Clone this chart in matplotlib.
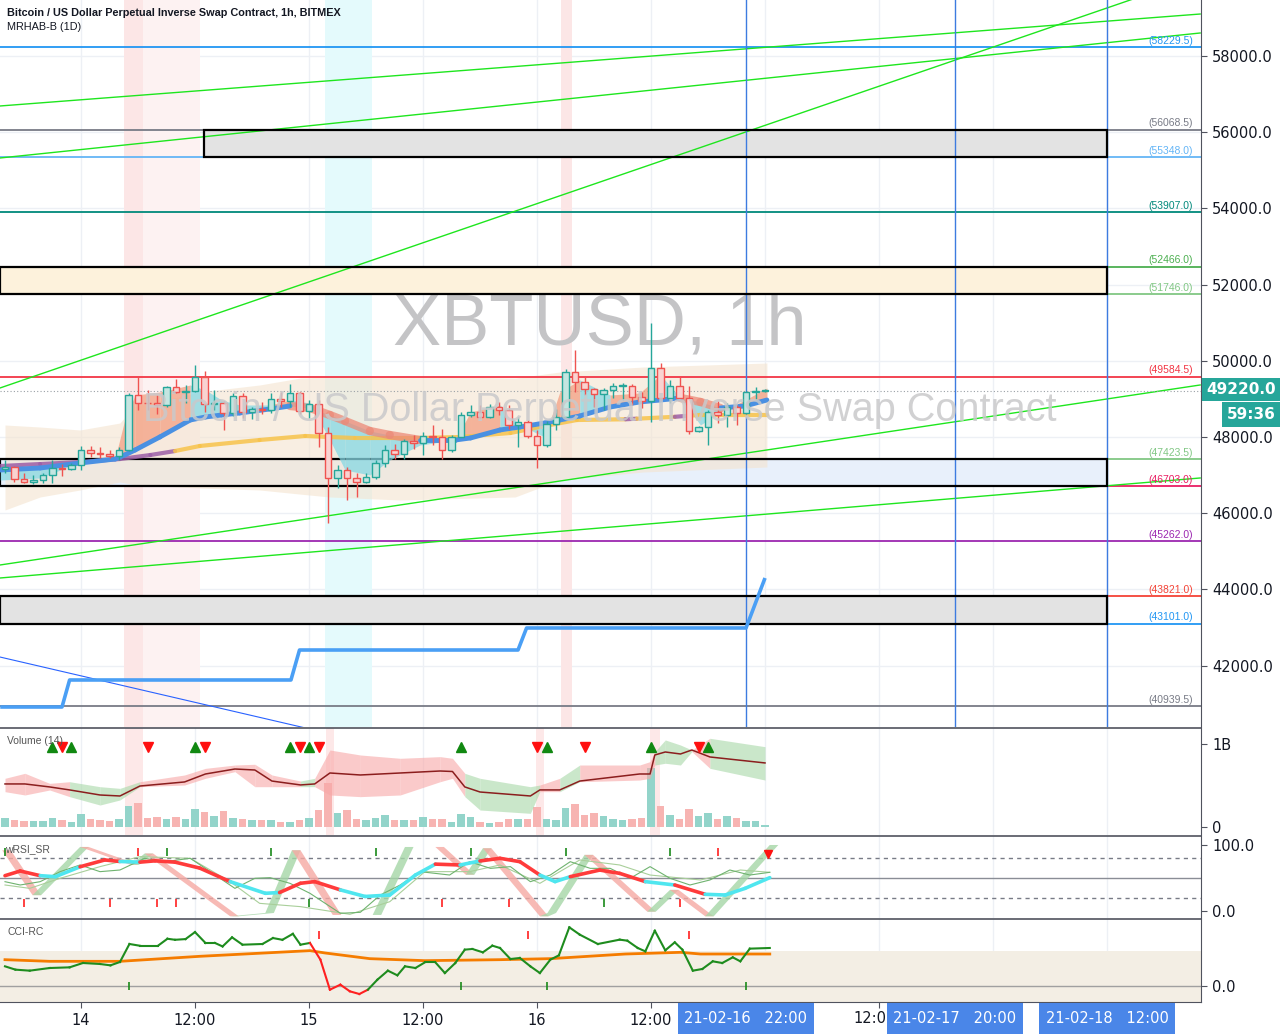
import numpy as np
import matplotlib.pyplot as plt
from matplotlib.patches import Rectangle, Polygon

W, H = 1280, 1036
X_LEFT, X_RIGHT = -8.526, 117.89   # hours from 2021-02-14 00:00

# ---------------- candles (1h) ----------------
hours = np.arange(-8, 73)
first_open = 47160
closes = [47210, 46900, 46830, 46870, 47000, 47190, 47160, 47270, 47650, 47580,
          47550, 47500, 47660, 49100, 48900, 48880, 48850, 49310, 49180, 49200,
          49580, 48870, 48890, 48640, 49080, 48660, 48730, 48700, 49000, 48950,
          49160, 48680, 48860, 48100, 46920, 47130, 46920, 46820, 46950, 47320,
          47660, 47560, 47900, 47850, 48030, 48000, 47660, 48000, 48580, 48660,
          48530, 48790, 48710, 48310, 48400, 48030, 47790, 48340, 48520, 49710,
          49440, 49260, 49130, 49230, 49340, 49350, 49050, 48950, 49810, 49020,
          49340, 49020, 48160, 48260, 48650, 48570, 48790, 48630, 49180, 49210,
          49220]
highs = [47390, 47230, 47050, 47000, 47050, 47400, 47300, 47320, 47760, 47760,
         47740, 47650, 47740, 49150, 49570, 49230, 49100, 49330, 49510, 49370,
         49900, 49730, 49230, 48940, 49150, 49150, 48780, 48930, 49150, 49170,
         49400, 49180, 48970, 48970, 48270, 47260, 47210, 47050, 47050, 47400,
         47790, 47820, 47950, 48050, 48130, 48310, 48210, 48060, 48660, 48840,
         48840, 48870, 48920, 48840, 48520, 48450, 48180, 48420, 48730, 49790,
         50280, 49580, 49290, 49290, 49420, 49420, 49400, 49180, 50990, 49940,
         49500, 49580, 49340, 48290, 48710, 48950, 48890, 48840, 49200, 49310,
         49260]
lows = [47050, 46830, 46800, 46770, 46780, 46780, 46980, 47130, 47130, 47480,
        47450, 47450, 47400, 47620, 48700, 48700, 48600, 48780, 49150, 48880,
        49180, 48660, 48700, 48180, 48540, 48500, 48480, 48600, 48620, 48800,
        48800, 48600, 48500, 47740, 45740, 46660, 46340, 46420, 46780, 46900,
        47210, 47430, 47430, 47690, 47530, 47790, 47430, 47610, 48000, 48530,
        48500, 48500, 48580, 48200, 47740, 47970, 47180, 47740, 48180, 48500,
        49180, 49100, 48790, 48710, 49020, 48970, 48840, 48760, 48390, 48970,
        48890, 49020, 48080, 48130, 47790, 48360, 48260, 48310, 48600, 48990,
        49180]
volumes_m = [100, 80, 68, 68, 68, 108, 80, 56, 149, 92,
             80, 72, 88, 249, 289, 108, 120, 92, 116, 88,
             217, 177, 133, 193, 108, 92, 80, 80, 80, 60,
             60, 80, 100, 201, 530, 169, 197, 88, 80, 108,
             141, 80, 80, 80, 120, 92, 92, 60, 149, 120,
             56, 48, 60, 96, 96, 92, 237, 96, 80, 225,
             273, 141, 165, 133, 96, 80, 92, 104, 703, 249,
             141, 96, 213, 129, 161, 92, 129, 100, 68, 68, 20]
last_price = 49220.0

# ---------------- MRHAB overlay ----------------
ribbon_h = [-8.5, -4.3, -0.1, 3.6, 4.6, 5.7, 8.3, 11.5, 13.1, 14.8, 16.7, 19.9,
            22.0, 24.1, 26.2, 27.8, 30.4, 32.5, 35.7, 39.4, 41.0, 44.1, 46.2,
            48.8, 50.4, 52.5, 55.7, 58.8, 61.0, 63.1, 65.2, 67.3, 69.9, 72.2]
fast_p = [47134, 47186, 47317, 47422, 47527, 47659, 48000, 48446, 48525, 48577,
          48630, 48735, 48814, 48761, 48577, 48420, 48157, 48052, 47921, 47921,
          47974, 48184, 48262, 48367, 48446, 48551, 48787, 48919, 48971, 49024,
          48919, 48761, 48814, 48971]
lead_p = [46871, 46924, 47343, 47449, 48446, 49102, 49181, 49365, 49233, 48971,
          48840, 48840, 48971, 48893, 47921, 47134, 47003, 47396, 47790, 47921,
          48656, 48840, 48315, 48000, 49181, 49496, 49102, 49155, 49627, 49024,
          48315, 48656, 48971, 49286]
slow_h = [-8.5, -4.3, -0.1, 4.1, 7.3, 9.9, 12.5, 18.8, 23.6, 28.8, 35.7, 39.9,
          45.2, 48.8, 52.2, 57.3, 58.5, 62.5, 64.0, 65.2, 72.2]
slow_p = [47238, 47290, 47343, 47422, 47527, 47632, 47764, 47921, 48026, 47974,
          47974, 48000, 48105, 48289, 48446, 48465, 48480, 48530, 48560, 48578, 48578]
slow_purple = [1, 1, 1, 1, 1, 0, 0, 0, 0, 0, 0, 0, 0, 0, 0, 1, 0, 1, 0, 0]
env_h = [-8.0, -4.3, -0.1, 4.1, 5.5, 12.5, 18.8, 23.1, 26.2, 33.6, 45.7, 50.4, 59.2, 72.2]
env_up = [48315, 48262, 48184, 48367, 48787, 49181, 49365, 49548, 49575, 49601,
          49548, 49706, 49837, 49942]
env_lo = [46084, 46425, 46609, 46819, 46750, 46661, 46609, 46500, 46425, 46346,
          46425, 46871, 47081, 47212]
daily_h = [-8.5, -2.0, -1.2, 22.1, 23.0, 46.0, 46.9, 70.0, 72.0]
daily_p = [40913, 40913, 41622, 41622, 42409, 42409, 42987, 42987, 44299]

# ---------------- drawings ----------------
levels = [58229.5, 56068.5, 55348.0, 53907.0, 52466.0, 51746.0, 49584.5,
          47423.5, 46703.0, 45262.0, 43821.0, 43101.0, 40939.5]
level_colors = ['#2196f3', '#787b86', '#64b5f6', '#00897b', '#4caf50', '#81c784',
                '#f23645', '#81c784', '#e91e63', '#9c27b0', '#f44336', '#2196f3',
                '#787b86']
zones = [(12.95, 56068.5, 55348.0, '#e3e3e3'),
         (X_LEFT, 52466.0, 51746.0, '#fdf2dc'),
         (X_LEFT, 47423.5, 46703.0, '#e8f0fb'),
         (X_LEFT, 43821.0, 43101.0, '#e3e3e3')]
zone_end = 108.0
trend_lines = [((-8.53, 56688), (117.8, 59102)),
               ((-8.53, 55323), (117.8, 58604)),
               ((-8.53, 49286), (117.8, 60100)),
               ((-8.53, 44640), (117.8, 49365)),
               ((-8.53, 44299), (117.8, 46924))]
down_line = ((-8.53, 42225), (33.6, 39784))
vlines_h = [70, 92, 108]
pink_bands = [(4.5, 6.5, '#fce6e6'), (6.5, 12.5, '#fdf2f2'), (50.5, 51.7, '#fce6e6')]
cyan_bands = [(25.7, 30.6, '#e4fafc')]

# ---------------- volume panel ----------------
vol_h = [-8.0, -5.9, -3.3, -1.2, 2.0, 4.1, 6.2, 10.9, 13.1, 16.2, 18.3, 20.1,
         23.1, 24.6, 26.2, 29.4, 33.6, 37.8, 39.1, 40.4, 42.0, 47.3, 48.3, 50.4,
         52.5, 58.8, 59.9, 60.4, 61.5, 63.1, 64.3, 66.2, 72.0]
vol_ma = [0.515, 0.515, 0.479, 0.443, 0.382, 0.370, 0.49, 0.539, 0.635, 0.695,
          0.683, 0.55, 0.503, 0.515, 0.647, 0.623, 0.647, 0.671, 0.665, 0.479,
          0.418, 0.37, 0.443, 0.443, 0.55, 0.635, 0.635, 0.864, 0.9, 0.876,
          0.924, 0.84, 0.768]
vol_up = [0.583, 0.643, 0.522, 0.542, 0.482, 0.462, 0.542, 0.623, 0.703, 0.743,
          0.752, 0.623, 0.550, 0.583, 0.924, 0.864, 0.824, 0.844, 0.824, 0.643,
          0.583, 0.482, 0.502, 0.583, 0.743, 0.743, 0.784, 0.904, 1.045, 0.984,
          0.924, 1.065, 0.964]
vol_lo = [0.422, 0.382, 0.442, 0.362, 0.261, 0.322, 0.482, 0.502, 0.583, 0.663,
          0.482, 0.482, 0.482, 0.482, 0.382, 0.362, 0.382, 0.542, 0.583, 0.362,
          0.201, 0.161, 0.422, 0.422, 0.542, 0.562, 0.583, 0.743, 0.764, 0.743,
          0.904, 0.703, 0.562]
vol_bull = [0, 0, 0, 1, 1, 1, 0, 0, 0, 0, 0, 0, 1, 0, 0, 0, 0, 0, 0, 1, 1, 1,
            0, 1, 0, 0, 0, 1, 1, 1, 0, 1]
vol_up_marks = [-3, -1, 12, 22, 24, 40, 49, 60, 66]
vol_dn_marks = [-2, 7, 13, 23, 25, 48, 53, 65]

# ---------------- wRSI_SR panel ----------------
rsi_h = [-8.0, -6.4, -4.3, -2.7, -0.1, 2.5, 4.1, 6.2, 7.8, 9.9, 12.5, 15.7, 19.4,
         20.9, 23.1, 24.6, 27.3, 29.9, 32.5, 35.2, 37.3, 39.9, 42.0, 44.1, 46.2,
         48.3, 49.9, 51.5, 54.6, 56.7, 59.4, 62.5, 65.7, 67.8, 69.9, 72.5]
rsi_v = [53.5, 60.6, 53.5, 52, 67, 77.3, 75, 74, 76, 74, 65, 44.5, 26.8, 28, 42,
         44.5, 32, 22, 24.2, 54.5, 71, 69.7, 75.8, 79.8, 74.7, 54.5, 44.5, 52, 62,
         57, 44.5, 39.4, 25.3, 24.2, 34.3, 50.5]
rsi_red_ranges = [(-8.5, -4.6), (-0.1, 4.1), (6.7, 15.7), (22.0, 27.3), (34.1, 35.2),
                  (36.9, 40.4), (42.5, 48.3), (53.0, 59.4), (62.5, 65.7)]
rib_h = [-8.3, -5.1, -0.1, 5.2, 6.7, 15.7, 19.4, 22.2, 26.5, 30.7, 34.1, 37.3,
         40.5, 42.3, 48.3, 49.1, 53.0, 59.6, 62.0, 65.7, 72.5]
rib_v = [92, 24, 97, 70, 87, -8, -3, 92, -6, -6, 97, 97, 55, 95, -8, -3, 85, -1,
         32, -8, 100]
rsi_raw_h = [-8.0, -6.4, -4.3, -2.2, -0.1, 2.0, 4.1, 6.7, 8.8, 11.5, 13.6, 16.2,
             18.3, 19.9, 22.0, 24.1, 27.3, 29.4, 31.5, 33.6, 35.7, 38.8, 40.9,
             43.1, 45.2, 47.3, 49.4, 51.5, 53.6, 55.7, 57.8, 59.9, 62.0, 64.1,
             66.2, 68.3, 70.4, 72.5]
rsi_raw_v = [44.4, 39.4, 44.4, 59.6, 69.7, 59.6, 62.1, 79.8, 74.7, 79.8, 59.6,
             34.3, 49.5, 50.5, 41.9, 26.8, -3.5, -2, 24.2, 39.4, 59.6, 54.5, 74.7,
             64.6, 67.2, 44.4, 54.5, 74.7, 64.6, 64.6, 49.5, 67.2, 49.5, 39.4, 47,
             62.1, 54.5, 58.6]
rsi_raw2_h = [-8.0, -5.4, -2.2, 2.0, 6.2, 11.5, 15.7, 18.8, 23.1, 28.3, 32.5, 36.2,
              40.9, 44.1, 48.3, 52.5, 56.7, 59.9, 65.2, 69.4, 72.5]
rsi_raw2_v = [39.4, 34.3, 49.5, 67.2, 82.3, 79.8, 44.4, 11.6, 6.6, -5, 14.1, 59.6,
              59.6, 69.7, 41.9, 77.3, 69.7, 54.5, 47, 62.1, 58.6]
rsi_top_green = [-8, 9, 20, 31, 41, 51, 62]
rsi_top_red = [6, 67]
rsi_bot_red = [-6, 3, 8, 10, 38, 45, 63]
rsi_bot_green = [24, 55]
rsi_sell_arrow = 72.3

# ---------------- CCI-RC panel ----------------
cci_h = [-8.0, -6.9, -5.4, -3.3, -1.2, 0.2, 2.0, 3.1, 4.1, 5.1, 6.2, 8.1, 9.1,
         9.9, 11.0, 12.0, 13.1, 14.1, 14.9, 15.9, 17.0, 19.1, 20.2, 21.2, 22.3,
         23.1, 24.1, 25.2, 26.2, 27.3, 28.3, 29.3, 30.2, 31.2, 32.3, 33.3, 34.1,
         35.2, 36.2, 37.3, 38.3, 39.4, 40.4, 41.2, 42.3, 43.3, 44.1, 45.2, 46.2,
         47.3, 48.3, 49.4, 50.3, 51.4, 52.5, 54.4, 56.7, 57.5, 58.6, 59.4, 60.4,
         61.5, 62.5, 63.3, 64.4, 65.4, 66.5, 67.5, 68.6, 69.4, 70.4, 72.5]
cci_v = [56.2, 46.7, 43.8, 51.4, 53.3, 65.7, 62.9, 59, 68.6, 120, 115, 115, 135,
         132, 134, 154, 123, 123, 113, 139, 118, 120, 137, 132, 149, 118, 123,
         75.2, -10.5, 3.8, -15.2, -22.9, -10.5, 18.1, 43.8, 30.5, 56.2, 51.4,
         67.6, 67.6, 37.1, 65.7, 103.8, 105.7, 96.2, 115.2, 108.6, 77.1, 80,
         56.2, 37.1, 75.2, 87.6, 167.6, 146.7, 120, 132.4, 129.5, 108.6, 99, 158,
         101.9, 124.8, 103.8, 43.8, 48.6, 70.5, 65.7, 81.9, 70.5, 106.7, 108.6]
cci_red_range = (24.6, 30.5)
cci_sig_h = [-8.0, -3.3, 4.1, 12.5, 24.1, 25.7, 30.4, 36.2, 44.1, 49.4, 57.3, 63.1,
             65.2, 72.5]
cci_sig_v = [75.2, 70.5, 70.5, 84.8, 101, 94.3, 78.1, 72.4, 75.2, 78.1, 91.4,
             96.2, 91.4, 91.4]
cci_top_red = [25, 47, 64]
cci_bot_green = [5, 40, 49, 70]

# ---------------- time axis ----------------
grid_hours = [0, 12, 24, 36, 48, 60, 72, 84, 96, 108]
time_ticks = [0, 12, 24, 36, 48, 60, 84]
time_labels = ['14', '12:00', '15', '12:00', '16', '12:00', '']
cut_label = (84, '12:0')   # label partly hidden behind the 20:00 marker box
time_boxes = [(70, '21-02-16   22:00'), (92, '21-02-17   20:00'), (108, '21-02-18   12:00')]

TEAL, RED = '#26a69a', '#ef5350'
AXC = '#50535e'
GRID = '#edf0f5'
NARROW = ['Liberation Sans Narrow', 'Liberation Sans', 'DejaVu Sans']

fig = plt.figure(figsize=(W / 100, H / 100), dpi=100)


def panel(top, bottom):
    a = fig.add_axes([0, 1 - bottom / H, 1201 / W, (bottom - top) / H])
    a.set_xlim(X_LEFT, X_RIGHT)
    a.yaxis.tick_right()
    for s in ('left', 'top', 'bottom'):
        a.spines[s].set_visible(False)
    a.spines['right'].set_color(AXC)
    a.tick_params(axis='y', length=4, color=AXC, labelsize=10.5,
                  labelcolor='#131722', pad=4)
    a.tick_params(axis='x', length=0, labelbottom=False)
    for g in grid_hours:
        a.axvline(g, color=GRID, lw=1, zorder=0)
    return a


ax = panel(0, 727)
axv = panel(728, 835)
axr = panel(836, 918)
axc = panel(919, 1002)
for a in (axv, axr, axc):
    a.spines['top'].set_visible(True)
    a.spines['top'].set_color(AXC)
    a.spines['top'].set_linewidth(1.2)
axc.spines['bottom'].set_visible(True)
axc.spines['bottom'].set_color(AXC)

# ================= main panel =================
ax.set_ylim(40388, 59470)
price_ticks = np.arange(42000, 58001, 2000)
ax.set_yticks(price_ticks)
ax.set_yticklabels(['%.1f' % t for t in price_ticks])
for t in price_ticks:
    ax.axhline(t, color=GRID, lw=1, zorder=0)

for x0, x1, c in pink_bands + cyan_bands:
    ax.axvspan(x0, x1, color=c, lw=0, zorder=0.1)

ax.text(0.4996, 0.552, 'XBTUSD, 1h', transform=ax.transAxes, ha='center',
        va='center', fontsize=52, color='#c4c4c6', family='Liberation Sans', zorder=0.3)
ax.text(0.499, 0.436, 'Bitcoin / US Dollar Perpetual Inverse Swap Contract',
        transform=ax.transAxes, ha='center', va='center', fontsize=28.5,
        color='#c9c9cb', family='Liberation Sans', zorder=5, alpha=0.85)

for x0, top, bot, c in zones:
    ax.add_patch(Rectangle((x0, bot), zone_end - x0, top - bot, facecolor=c,
                           edgecolor='none', zorder=1))
ax.fill_between(env_h, env_lo, env_up, color='#f4e4cf', alpha=0.6, lw=0, zorder=1.5)

for lv, c in zip(levels, level_colors):
    ax.axhline(lv, color=c, lw=1.3, zorder=2)
    ax.annotate('(%.1f)' % lv, (117.05, lv), xytext=(0, 1), textcoords='offset points',
                ha='right', va='bottom', fontsize=7.5, color=c, family=NARROW, zorder=6)
for x0, top, bot, c in zones:
    ax.add_patch(Rectangle((x0, bot), zone_end - x0, top - bot, fill=False,
                           edgecolor='black', lw=1.6, zorder=2.5))

for (h0, p0), (h1, p1) in trend_lines:
    ax.plot([h0, h1], [p0, p1], color='#1ee61e', lw=1, zorder=2.2)
ax.plot([down_line[0][0], down_line[1][0]], [down_line[0][1], down_line[1][1]],
        color='#2962ff', lw=0.8, zorder=2.2)
for vh in vlines_h:
    ax.axvline(vh, color='#3d7be0', lw=1, zorder=2.3)
ax.axhline(last_price, color='#9aa0a6', lw=0.8, ls=(0, (1, 2)), zorder=2.3)

ax.plot(daily_h, daily_p, color='#4a9ff5', lw=2.6, zorder=3, solid_capstyle='butt')

# ribbon between fast line and lead line
for i in range(len(ribbon_h) - 1):
    rising = lead_p[i + 1] > lead_p[i]
    above = lead_p[i] + lead_p[i + 1] > fast_p[i] + fast_p[i + 1]
    col = '#f3a082' if (rising and above) else '#86d8e4'
    ax.fill_between(ribbon_h[i:i + 2], fast_p[i:i + 2], lead_p[i:i + 2],
                    color=col, alpha=0.75, lw=0, zorder=3)
for i in range(len(slow_h) - 1):
    col = '#9c5ea6' if slow_purple[i] else '#f7c34a'
    ax.plot(slow_h[i:i + 2], slow_p[i:i + 2], color=col, lw=3, alpha=0.85,
            solid_capstyle='round', zorder=3.4)
for i in range(len(ribbon_h) - 1):
    falling = fast_p[i + 1] < fast_p[i]
    if falling:
        ax.plot(ribbon_h[i:i + 2], fast_p[i:i + 2], color='#ec8a78', lw=6, alpha=0.75,
                solid_capstyle='round', zorder=3.5)
    else:
        ax.plot(ribbon_h[i:i + 2], fast_p[i:i + 2], color='#4a90e2', lw=3.5,
                solid_capstyle='round', zorder=3.6)

opens = [first_open] + closes[:-1]
up = np.array(closes) >= np.array(opens)
edge = np.where(up, TEAL, RED)
face = np.where(up, '#c4e5e0', '#f9d3d1')
body_lo = np.minimum(opens, closes)
body_hi = np.maximum(opens, closes)
ax.vlines(hours, lows, highs, colors=edge, lw=1, zorder=4)
ax.bar(hours, np.maximum(body_hi - body_lo, 18), bottom=body_lo, width=0.68,
       color=face, edgecolor=edge, lw=1, zorder=4.2)

# ================= volume =================
axv.set_ylim(-0.100, 1.189)
axv.set_yticks([0, 1.0])
axv.set_yticklabels(['0', '1B'])
for x0, x1 in [(4.6, 6.5), (25.8, 26.6), (47.9, 48.7), (59.9, 60.9)]:
    axv.axvspan(x0, x1, color='#fde8e8', lw=0, zorder=0.1)
vcol = np.where(up, '#93d4ca', '#f7b4b2')
axv.bar(hours, np.array(volumes_m) / 1000.0, width=0.8, color=vcol, lw=0, zorder=2)
for i in range(len(vol_h) - 1):
    col = '#a8d8a8' if vol_bull[i] else '#f8a7a7'
    axv.fill_between(vol_h[i:i + 2], vol_lo[i:i + 2], vol_up[i:i + 2], color=col,
                     alpha=0.6, lw=0, zorder=3)
axv.plot(vol_h, vol_ma, color='#8b1e1e', lw=1.1, zorder=3.5)
axv.plot(vol_up_marks, [0.96] * len(vol_up_marks), '^', color='#118811', ms=6.5, zorder=4)
axv.plot(vol_dn_marks, [0.96] * len(vol_dn_marks), 'v', color='#ff1010', ms=6.5, zorder=4)
axv.text(7 / 1201, (835 - 741) / 107, 'Volume (14)', transform=axv.transAxes,
         fontsize=7.5, color='#555555', va='center', family=NARROW, zorder=6)

# ================= wRSI_SR =================
axr.set_ylim(-10.6, 113.6)
axr.set_yticks([0, 100])
axr.set_yticklabels(['0.0', '100.0'])
axr.axhline(80, color='#787b86', lw=1, ls=(0, (3, 3)), zorder=1)
axr.axhline(20, color='#787b86', lw=1, ls=(0, (3, 3)), zorder=1)
axr.axhline(50, color='#8a8d96', lw=1, zorder=1)
RIB_LAG = 0.9
for i in range(len(rib_h) - 1):
    x0, x1, y0, y1 = rib_h[i], rib_h[i + 1], rib_v[i], rib_v[i + 1]
    col = '#a5d6a7' if y1 > y0 else '#f6a9a3'
    axr.add_patch(Polygon([(x0, y0), (x1, y1), (x1 + RIB_LAG, y1), (x0 + RIB_LAG, y0)],
                          closed=True, facecolor=col, edgecolor='none', alpha=0.8, zorder=2))
axr.plot(rsi_raw2_h, rsi_raw2_v, color='#a9cf9a', lw=0.8, zorder=2.5)
axr.plot(rsi_raw_h, rsi_raw_v, color='#6fb36f', lw=0.8, zorder=2.6)
for i in range(len(rsi_h) - 1):
    mid = 0.5 * (rsi_h[i] + rsi_h[i + 1])
    red = any(a <= mid <= b for a, b in rsi_red_ranges)
    axr.plot(rsi_h[i:i + 2], rsi_v[i:i + 2], color='#ff3b3b' if red else '#4fe6ef',
             lw=2.6, solid_capstyle='round', zorder=3)
axr.plot(rsi_top_green, [89.4] * len(rsi_top_green), '|', color='#1a8a1a', ms=6, mew=1.2, zorder=4)
axr.plot(rsi_top_red, [89.4] * len(rsi_top_red), '|', color='#ff2020', ms=6, mew=1.2, zorder=4)
axr.plot(rsi_bot_red, [12.1] * len(rsi_bot_red), '|', color='#ff2020', ms=6, mew=1.2, zorder=4)
axr.plot(rsi_bot_green, [12.1] * len(rsi_bot_green), '|', color='#1a8a1a', ms=6, mew=1.2, zorder=4)
axr.plot([rsi_sell_arrow], [86], 'v', color='#ff1010', ms=6, zorder=4)
axr.text(5 / 1201, (918 - 849) / 82, 'wRSI_SR', transform=axr.transAxes,
         fontsize=7.5, color='#555555', va='center', family=NARROW, zorder=6)

# ================= CCI-RC =================
axc.set_ylim(-45.7, 191.4)
axc.set_yticks([0])
axc.set_yticklabels(['0.0'])
axc.axhspan(-100, 100, color='#f3eee4', lw=0, zorder=0.5)
axc.axhline(0, color='#a0a0a0', lw=1, zorder=1)
axc.plot(cci_sig_h, cci_sig_v, color='#f57c00', lw=2, zorder=2)
for i in range(len(cci_h) - 1):
    mid = 0.5 * (cci_h[i] + cci_h[i + 1])
    red = cci_red_range[0] <= mid <= cci_red_range[1]
    axc.plot(cci_h[i:i + 2], cci_v[i:i + 2], color='#ff2020' if red else '#1e8c1e',
             lw=1.5, zorder=3)
axc.plot(cci_top_red, [145.7] * len(cci_top_red), '|', color='#ff2020', ms=6, mew=1.2, zorder=4)
axc.plot(cci_bot_green, [0] * len(cci_bot_green), '|', color='#1a8a1a', ms=6, mew=1.2, zorder=4)
axc.text(7 / 1201, (1002 - 932) / 83, 'CCI-RC', transform=axc.transAxes,
         fontsize=7.5, color='#555555', va='center', family=NARROW, zorder=6)

axc.set_xticks(time_ticks)
axc.set_xticklabels(time_labels)
axc.tick_params(axis='x', length=4, color=AXC, labelbottom=True, labelsize=10.5,
                labelcolor='#131722', pad=4)

# ================= overlays in pixel space =================
def px_rect(x0, y0, x1, y1, color):
    fig.add_artist(Rectangle((x0 / W, 1 - y1 / H), (x1 - x0) / W, (y1 - y0) / H,
                             transform=fig.transFigure, facecolor=color,
                             edgecolor='none', zorder=5))


# partially covered "12:00" label, ending where the next marker box starts
fig.text(886 / W, 1 - 1018.5 / H, cut_label[1], ha='right', va='center',
         color='#131722', fontsize=10.5)

for hb, txt in time_boxes:
    cx = 81 + hb * 9.5
    px_rect(cx - 68, 1003, cx + 68, 1034, '#4a86e8')
    fig.text(cx / W, 1 - 1018.5 / H, txt, ha='center', va='center', color='white',
             fontsize=10.5, zorder=6)

px_rect(1202, 378, 1280, 401, '#26a69a')
fig.text(1241 / W, 1 - 389.5 / H, '%.1f' % last_price, ha='center', va='center',
         color='white', fontsize=11, fontweight='bold', zorder=6)
px_rect(1222, 402, 1280, 427, '#26a69a')
fig.text(1251 / W, 1 - 414.5 / H, '59:36', ha='center', va='center',
         color='white', fontsize=11, fontweight='bold', zorder=6)

fig.text(7 / W, 1 - 13 / H, 'Bitcoin / US Dollar Perpetual Inverse Swap Contract, 1h, BITMEX',
         fontsize=7.8, fontweight='bold', color='#131722', va='center', family=NARROW)
fig.text(7 / W, 1 - 27 / H, 'MRHAB-B (1D)', fontsize=7.8, color='#131722',
         va='center', family=NARROW)

fig.savefig('out.png', dpi=100, facecolor='white')
